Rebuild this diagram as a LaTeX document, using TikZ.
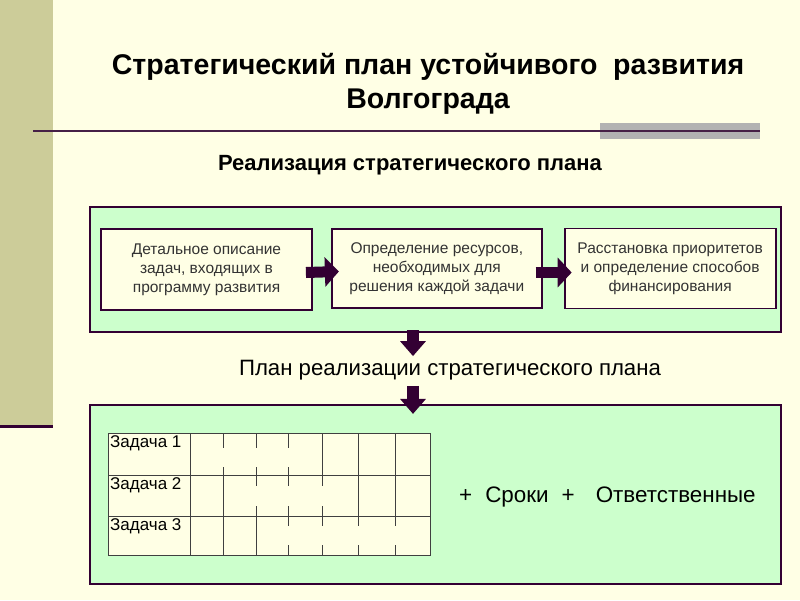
\documentclass[tikz,border=0pt]{standalone}
\usepackage{fontspec}
\setmainfont{Liberation Sans}
\usetikzlibrary{positioning,arrows.meta}
\definecolor{slidebg}{RGB}{255,255,229}
\definecolor{sidebar}{RGB}{204,204,153}
\definecolor{plum}{RGB}{51,0,51}
\definecolor{panel}{RGB}{204,255,204}
\definecolor{rulegray}{RGB}{178,178,178}
\tikzset{panel box/.style={rectangle,draw=plum,line width=2.2pt,fill=panel},
         step box/.style={rectangle,draw=plum,line width=1.8pt,fill=slidebg,align=center,
                          minimum width=211,minimum height=80,inner sep=0pt,
                          font=\fontsize{15.5}{19}\selectfont,text=black!80},
         fat arrow/.style={draw=plum,line width=11pt,-{Triangle[length=14pt,width=29pt]}},
         down arrow/.style={draw=plum,line width=12pt,-{Triangle[length=15pt,width=25pt]}},
         grid line/.style={black!75,line width=0.8pt},
         task label/.style={anchor=north west,inner sep=1pt,font=\fontsize{17}{18}\selectfont},
}

\begin{document}
\begin{tikzpicture}[x=1pt,y=-1pt]
\useasboundingbox (0,0) rectangle (800,600);
\fill[slidebg] (0,0) rectangle (800,600);
\fill[sidebar] (0,0) rectangle (53,425);
\draw[plum,line width=3pt] (0,426) -- (53,426);
\fill[rulegray] (600,123) rectangle (760,139);
\draw[plum!75!gray,line width=1.5pt] (33,131) -- (760,131);

\node[font=\bfseries\fontsize{28.5}{34}\selectfont,align=center] (title) at (428,84)
    {Стратегический план устойчивого\ \ развития\\Волгограда};
\node[font=\bfseries\fontsize{22}{24}\selectfont] (subtitle) at (410,165)
    {Реализация стратегического плана};

% upper panel with the three steps
\node[panel box,minimum width=691,minimum height=125] (top) at (435.5,269.5) {};
\node[step box,minimum height=81] (s1) at (206.5,269.5)
    {Детальное описание\\задач, входящих в\\программу развития};
\node[step box,right=18 of s1,minimum width=210,minimum height=79,yshift=1] (s2)
    {Определение ресурсов,\\необходимых для\\решения каждой задачи};
\node[step box,right=21 of s2] (s3)
    {Расстановка приоритетов\\и определение способов\\финансирования};
\draw[fat arrow] ([xshift=-7pt,yshift=-3pt]s1.east) -- ([xshift=8pt,yshift=-3pt]s2.west);
\draw[fat arrow] ([xshift=-7pt,yshift=-4pt]s2.east) -- ([xshift=8pt,yshift=-4pt]s3.west);

\draw[down arrow] ([xshift=-22.5pt,yshift=3pt]top.south) -- ([xshift=-22.5pt,yshift=-23pt]top.south);
\node[font=\fontsize{22.2}{24}\selectfont] (plan) at (450,370)
    {План реализации стратегического плана};

% lower panel with the task chart
\node[panel box,minimum width=691,minimum height=179] (bottom) at (435.5,494.5) {};
\draw[down arrow] ([xshift=-22.5pt,yshift=18pt]bottom.north) -- ([xshift=-22.5pt,yshift=-10pt]bottom.north);

\fill[slidebg] (108,433) rectangle (430,555);
\foreach \x in {190,223,256,288,322,358,395}
    \draw[grid line] (\x,433) -- (\x,555);
\foreach \y in {475,516}
    \draw[grid line] (108,\y) -- (430,\y);
% bars hiding the grid
\fill[slidebg] (191,448) rectangle (321,467);
\fill[slidebg] (225,486) rectangle (340,506);
\fill[slidebg] (257,526) rectangle (429,545);
\draw[grid line] (108,433) rectangle (430,555);
\node[task label] (t1) at (109,434) {Задача 1};
\node[task label] (t2) at (109,476) {Задача 2};
\node[task label] (t3) at (109,517) {Задача 3};

\node[anchor=west,inner sep=0pt,font=\fontsize{22.4}{24}\selectfont] (extras) at (459,497)
    {+\hspace{13pt}Сроки\hspace{13pt}+\hspace{21pt}Ответственные};
\end{tikzpicture}
\end{document}
